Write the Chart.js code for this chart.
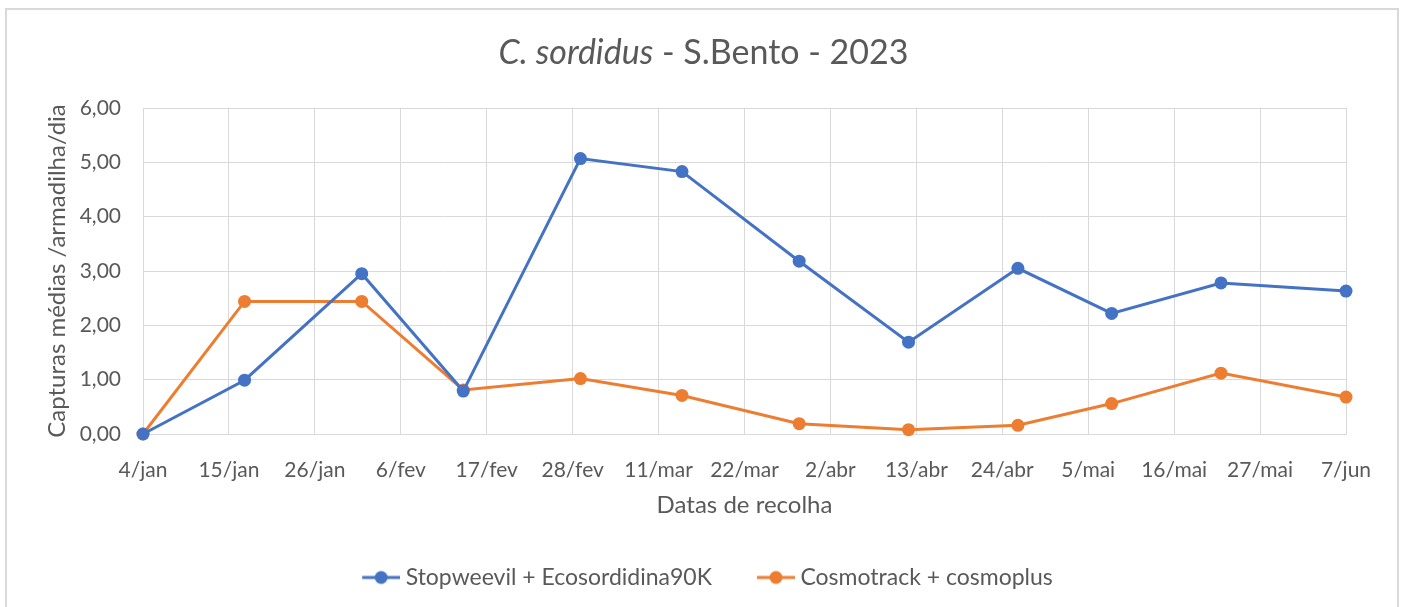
<!DOCTYPE html>
<html>
<head>
<meta charset="utf-8">
<script src="https://cdn.jsdelivr.net/npm/chart.js@4"></script>
<style>
  html, body { margin: 0; padding: 0; background: #fff; }
  #wrap { position: relative; width: 1407px; height: 607px; overflow: hidden; }
  #frame { position: absolute; left: 5px; top: 8px; width: 1394px; height: 620px; border: 2px solid #d9d9d9; box-sizing: border-box; pointer-events: none; }
  canvas { position: absolute; left: 0; top: 0; }
</style>
</head>
<body>
<div id="wrap">
  <canvas id="chart" width="1407" height="607"></canvas>
  <div id="frame"></div>
</div>
<script>
// collection dates and mean captures per trap per day
const dates = ['2023-01-04','2023-01-17','2023-02-01','2023-02-14','2023-03-01','2023-03-14',
               '2023-03-29','2023-04-12','2023-04-26','2023-05-08','2023-05-22','2023-06-07'];
const stopweevil = [0.00, 0.99, 2.95, 0.79, 5.07, 4.83, 3.18, 1.69, 3.05, 2.22, 2.78, 2.63];
const cosmotrack = [0.00, 2.44, 2.44, 0.81, 1.02, 0.71, 0.19, 0.08, 0.16, 0.56, 1.12, 0.68];
const xTickLabels = ['4/jan','15/jan','26/jan','6/fev','17/fev','28/fev','11/mar','22/mar',
                     '2/abr','13/abr','24/abr','5/mai','16/mai','27/mai','7/jun'];
const seriesNames = ['Stopweevil + Ecosordidina90K', 'Cosmotrack + cosmoplus'];

const BLUE = '#4472C4', ORANGE = '#ED7D31', GRID = '#d9d9d9', TXT = '#595959';
const FONT = 'Lato, "Open Sans", sans-serif';

const start = Date.UTC(2023, 0, 4);
function dayOf(s) {
  const [y, m, d] = s.split('-').map(Number);
  return Math.round((Date.UTC(y, m - 1, d) - start) / 86400000);
}
const days = dates.map(dayOf);

// legend marker: line with a dot, offset right to widen gap between items
function legendMarker(color) {
  const c = document.createElement('canvas');
  c.width = 79; c.height = 16;
  const g = c.getContext('2d');
  g.strokeStyle = color; g.lineWidth = 3;
  g.beginPath(); g.moveTo(41, 8); g.lineTo(79, 8); g.stroke();
  g.fillStyle = color;
  g.beginPath(); g.arc(60, 8, 6.5, 0, Math.PI * 2); g.fill();
  return c;
}

const titlePlugin = {
  id: 'mixedTitle',
  afterDraw(chart) {
    const ctx = chart.ctx;
    const a = 'C. sordidus', b = ' - S.Bento - 2023';
    ctx.save();
    ctx.fillStyle = TXT;
    ctx.textBaseline = 'middle';
    ctx.font = 'italic 34px ' + FONT;
    const wa = ctx.measureText(a).width;
    ctx.font = '34px ' + FONT;
    const wb = ctx.measureText(b).width;
    const x0 = chart.width / 2 - (wa + wb) / 2;
    ctx.font = 'italic 34px ' + FONT;
    ctx.fillText(a, x0, 53);
    ctx.font = '34px ' + FONT;
    ctx.fillText(b, x0 + wa, 53);
    ctx.restore();
  }
};

function makeSet(label, values, color) {
  return {
    label,
    data: days.map((d, i) => ({ x: d, y: values[i] })),
    borderColor: color,
    backgroundColor: color,
    borderWidth: 3,
    pointRadius: 6.5,
    pointHoverRadius: 6.5,
    pointBorderWidth: 0,
    pointStyle: 'circle',
    legendMarker: legendMarker(color),
    tension: 0,
    clip: false
  };
}

new Chart(document.getElementById('chart'), {
  type: 'line',
  data: {
    datasets: [
      makeSet(seriesNames[0], stopweevil, BLUE),
      makeSet(seriesNames[1], cosmotrack, ORANGE)
    ]
  },
  plugins: [titlePlugin],
  options: {
    responsive: false,
    animation: false,
    layout: { padding: { left: 34, right: 61, top: 108, bottom: 8 } },
    plugins: {
      title: { display: false },
      tooltip: { enabled: false },
      legend: {
        position: 'bottom',
        labels: {
          color: TXT,
          font: { family: FONT, size: 23 },
          padding: 10,
          usePointStyle: true,
          pointStyleWidth: 67,
          generateLabels: chart => chart.data.datasets.map((ds, i) => ({
            text: ds.label,
            pointStyle: ds.legendMarker,
            fillStyle: ds.borderColor,
            strokeStyle: ds.borderColor,
            lineWidth: 0,
            fontColor: TXT,
            datasetIndex: i,
            hidden: false
          }))
        }
      }
    },
    scales: {
      x: {
        type: 'linear',
        min: 0, max: 154,
        afterFit: s => { s.height = 122; },
        afterBuildTicks: s => { s.ticks = xTickLabels.map((_, i) => ({ value: i * 11 })); },
        ticks: {
          autoSkip: false, maxRotation: 0, padding: 24,
          color: TXT, font: { family: FONT, size: 21 },
          callback: v => xTickLabels[Math.round(v / 11)]
        },
        grid: { color: GRID, lineWidth: 1, drawTicks: false },
        border: { color: GRID, width: 1 },
        title: {
          display: true, text: 'Datas de recolha', color: TXT,
          font: { family: FONT, size: 24 }, padding: { bottom: 36 }
        }
      },
      y: {
        min: 0, max: 6,
        afterFit: s => { s.width = 109; },
        ticks: {
          stepSize: 1, padding: 22,
          color: TXT, font: { family: FONT, size: 21 },
          callback: v => v.toFixed(2).replace('.', ',')
        },
        grid: { color: GRID, lineWidth: 1, drawTicks: false },
        border: { color: GRID, width: 1 },
        title: {
          display: true, text: 'Capturas médias /armadilha/dia', color: TXT,
          font: { family: FONT, size: 24 }, padding: { top: 9 }
        }
      }
    }
  }
});
</script>
</body>
</html>
